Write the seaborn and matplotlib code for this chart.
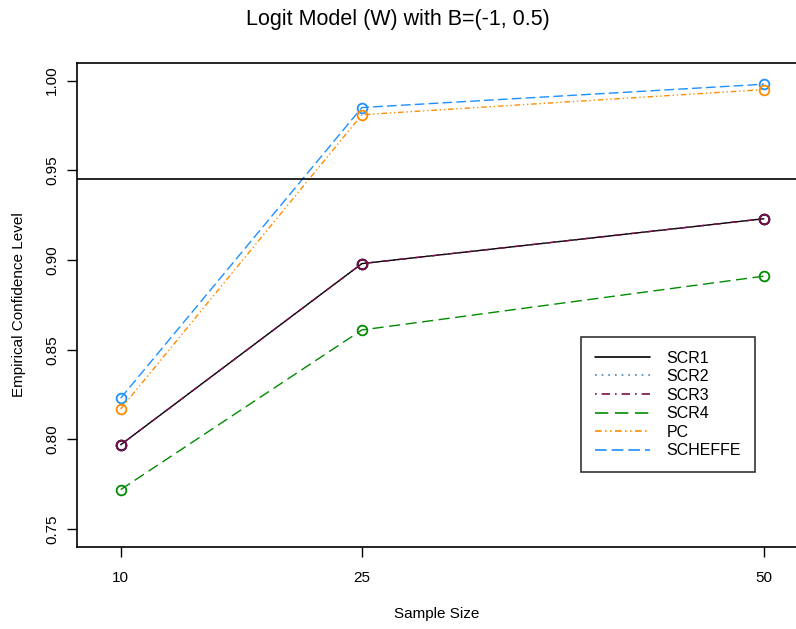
import matplotlib
matplotlib.use("Agg")
import matplotlib.pyplot as plt
from matplotlib.lines import Line2D
import seaborn as sns
import pandas as pd

sns.set_style("white")
plt.rcParams['font.family'] = ['Liberation Sans', 'DejaVu Sans']
plt.rcParams['text.color'] = 'black'
plt.rcParams['axes.labelcolor'] = 'black'
plt.rcParams['xtick.color'] = 'black'
plt.rcParams['ytick.color'] = 'black'

sample_sizes = [10, 25, 50]
series_names = ["SCR1", "SCR2", "SCR3", "SCR4", "PC", "SCHEFFE"]
scr1 = [0.797, 0.898, 0.923]
scr2 = [0.797, 0.898, 0.923]
scr3 = [0.797, 0.898, 0.923]
scr4 = [0.772, 0.861, 0.891]
pc = [0.817, 0.981, 0.995]
scheffe = [0.823, 0.985, 0.998]
reference_level = 0.945
yticks = [0.75, 0.80, 0.85, 0.90, 0.95, 1.00]
ytick_labels = ["0.75", "0.80", "0.85", "0.90", "0.95", "1.00"]

values = [scr1, scr2, scr3, scr4, pc, scheffe]
colors = ["#000000", "#4682B4", "#7A0F4A", "#008B00", "#FF8C00", "#1E90FF"]
dashes = [(None, None), (1, 3), (1, 3, 5, 3), (8, 4), (4, 2, 1, 2, 1, 2), (7, 3)]
draw_order = [5, 4, 3, 1, 0, 2]

fig = plt.figure(figsize=(7.96, 6.29), dpi=100)
ax = fig.add_axes([77.3/796, 1-547/629, (796-77.3)/796, (547-62.7)/629])

for i in draw_order:
    df = pd.DataFrame({"n": sample_sizes, "v": values[i]})
    sns.lineplot(data=df, x="n", y="v", ax=ax, color=colors[i], linewidth=1.0,
                 marker="o", markersize=7, markerfacecolor="none",
                 markeredgecolor=colors[i], markeredgewidth=1.3,
                 legend=False)
    line = ax.get_lines()[-1]
    if dashes[i][0] is not None:
        line.set_dashes(dashes[i])

ax.axhline(reference_level, color="black", linewidth=1.2)

ax.set_xlim(7.3, 52.0)
ax.set_ylim(0.74, 1.01)
ax.set_xticks(sample_sizes)
ax.set_xticklabels([str(s) for s in sample_sizes])
ax.set_yticks(yticks)
ax.set_yticklabels(ytick_labels, rotation=90, va="center")
ax.tick_params(axis="both", direction="out", length=7, width=1, labelsize=11,
               color="black", labelcolor="black", left=True, bottom=True)
ax.tick_params(axis="x", pad=10)
ax.tick_params(axis="y", pad=6)
for s in ax.spines.values():
    s.set_color("black")
    s.set_linewidth(1.2)
ax.spines["right"].set_visible(False)

ax.set_xlabel("Sample Size", fontsize=11, labelpad=16, color="black")
ax.set_ylabel("Empirical Confidence Level", fontsize=11, labelpad=14, color="black")
fig.suptitle("Logit Model (W) with B=(-1, 0.5)", fontsize=15.5, y=0.985, color="black")

leg_handles = []
for i, name in enumerate(series_names):
    h = Line2D([0], [0], color=colors[i], linewidth=1.2)
    if dashes[i][0] is not None:
        h.set_dashes(dashes[i])
    leg_handles.append(h)
leg = ax.legend(leg_handles, series_names, loc="upper left",
                bbox_to_anchor=((581-77.3)/718.7, 1-(337-62.7)/484.3),
                fontsize=11.5, frameon=True, fancybox=False, edgecolor="black",
                handlelength=3.5, labelspacing=0.22, borderpad=0.85,
                handletextpad=1.0, borderaxespad=0)
leg.get_frame().set_linewidth(1.2)
for t in leg.get_texts():
    t.set_color("black")

fig.savefig("out.png", dpi=100)
